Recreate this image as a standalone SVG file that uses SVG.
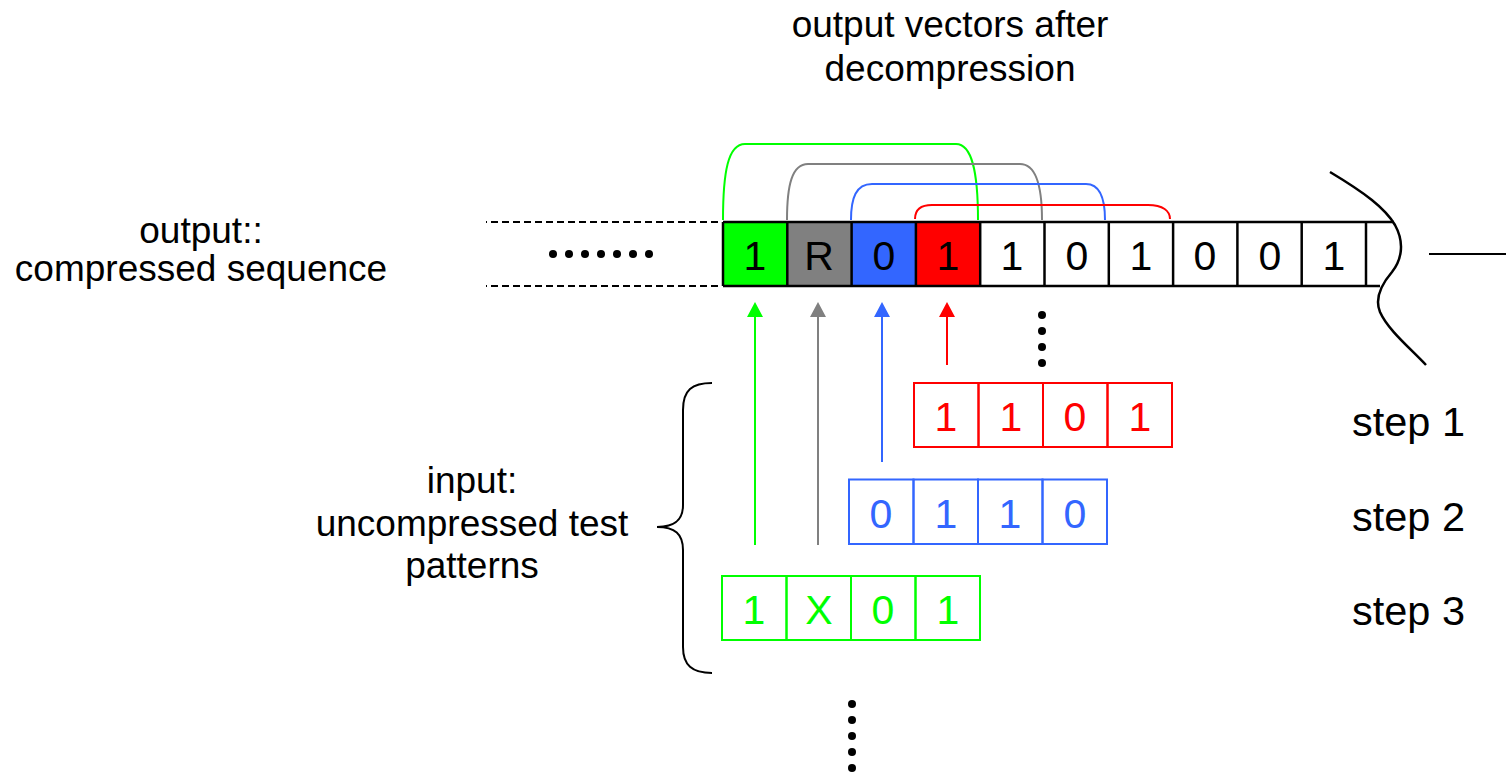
<svg xmlns="http://www.w3.org/2000/svg" width="1506" height="773" viewBox="0 0 1506 773">
<style>
text{font-family:"Liberation Sans",Arial,sans-serif;fill:#000}
.lbl{font-size:37px;text-anchor:middle}
.step{font-size:41.5px}
.d{font-size:41px;text-anchor:middle}
.cell{stroke:#000;stroke-width:2.5}
.r{stroke:#ff0000;fill:none;stroke-width:2}
.b{stroke:#3366ff;fill:none;stroke-width:2}
.g{stroke:#00ff00;fill:none;stroke-width:2}
.gr{stroke:#808080;fill:none;stroke-width:2}
text.tr{fill:#ff0000}
text.tb{fill:#3366ff}
text.tg{fill:#00ff00}
.dot{fill:#000}
</style>
<g id="title">
<text class="lbl" x="950" y="37">output vectors after</text>
<text class="lbl" x="950" y="81">decompression</text>
</g>
<g id="output-label">
<text class="lbl" x="201" y="243">output::</text>
<text class="lbl" x="201" y="281">compressed sequence</text>
</g>
<g id="input-label">
<text class="lbl" x="472" y="493">input:</text>
<text class="lbl" x="472" y="536">uncompressed test</text>
<text class="lbl" x="472" y="578">patterns</text>
</g>
<g id="steps">
<text class="step" x="1352" y="436">step 1</text>
<text class="step" x="1352" y="531">step 2</text>
<text class="step" x="1352" y="625">step 3</text>
</g>
<g id="compressed-sequence">
<line x1="486" y1="222" x2="722" y2="222" stroke="#000" stroke-width="2" stroke-dasharray="7 4" stroke-dashoffset="6"/>
<line x1="486" y1="286" x2="722" y2="286" stroke="#000" stroke-width="2" stroke-dasharray="7 4" stroke-dashoffset="6"/>
<g class="dot">
<circle cx="553" cy="254" r="4"/><circle cx="569" cy="254" r="4"/><circle cx="585" cy="254" r="4"/><circle cx="601" cy="254" r="4"/><circle cx="617" cy="254" r="4"/><circle cx="633" cy="254" r="4"/><circle cx="649" cy="254" r="4"/>
</g>
<rect x="723" y="222" width="64.3" height="64" fill="#00ff00"/>
<rect x="787.3" y="222" width="64.3" height="64" fill="#808080"/>
<rect x="851.6" y="222" width="64.3" height="64" fill="#3366ff"/>
<rect x="915.9" y="222" width="64.3" height="64" fill="#ff0000"/>
<line class="cell" x1="723" y1="222" x2="1394" y2="222"/>
<line class="cell" x1="723" y1="286" x2="1380" y2="286"/>
<g class="cell">
<line x1="723" y1="222" x2="723" y2="286"/>
<line x1="787.3" y1="222" x2="787.3" y2="286"/>
<line x1="851.6" y1="222" x2="851.6" y2="286"/>
<line x1="915.9" y1="222" x2="915.9" y2="286"/>
<line x1="980.2" y1="222" x2="980.2" y2="286"/>
<line x1="1044.5" y1="222" x2="1044.5" y2="286"/>
<line x1="1108.8" y1="222" x2="1108.8" y2="286"/>
<line x1="1173.1" y1="222" x2="1173.1" y2="286"/>
<line x1="1237.4" y1="222" x2="1237.4" y2="286"/>
<line x1="1301.7" y1="222" x2="1301.7" y2="286"/>
<line x1="1366" y1="222" x2="1366" y2="286"/>
</g>
<text class="d" x="755" y="270">1</text>
<text class="d" x="819" y="270">R</text>
<text class="d" x="884" y="270">0</text>
<text class="d" x="948" y="270">1</text>
<text class="d" x="1012" y="270">1</text>
<text class="d" x="1077" y="270">0</text>
<text class="d" x="1141" y="270">1</text>
<text class="d" x="1205" y="270">0</text>
<text class="d" x="1270" y="270">0</text>
<text class="d" x="1334" y="270">1</text>
<path d="M1330,172 C1365,193 1385,208 1395,225 C1406,245 1400,262 1392,272 C1380,286 1375,300 1380,312 C1388,330 1410,348 1426,365" fill="none" stroke="#000" stroke-width="2.5"/>
<line x1="1429" y1="254" x2="1506" y2="254" stroke="#000" stroke-width="2"/>
<g class="dot">
<circle cx="1042" cy="315" r="4"/><circle cx="1042" cy="331" r="4"/><circle cx="1042" cy="347" r="4"/><circle cx="1042" cy="363" r="4"/>
</g>
</g>
<g id="step1-pattern">
<rect class="r" x="914" y="383" width="64.5" height="64"/>
<rect class="r" x="978.5" y="383" width="64.5" height="64"/>
<rect class="r" x="1043" y="383" width="64.5" height="64"/>
<rect class="r" x="1107.5" y="383" width="64.5" height="64"/>
<text class="d tr" x="946" y="431">1</text>
<text class="d tr" x="1011" y="431">1</text>
<text class="d tr" x="1075" y="431">0</text>
<text class="d tr" x="1140" y="431">1</text>
</g>
<g id="step2-pattern">
<rect class="b" x="849" y="479.5" width="64.5" height="64.5"/>
<rect class="b" x="913.5" y="479.5" width="64.5" height="64.5"/>
<rect class="b" x="978" y="479.5" width="64.5" height="64.5"/>
<rect class="b" x="1042.5" y="479.5" width="64.5" height="64.5"/>
<text class="d tb" x="881" y="528">0</text>
<text class="d tb" x="946" y="528">1</text>
<text class="d tb" x="1010" y="528">1</text>
<text class="d tb" x="1075" y="528">0</text>
</g>
<g id="step3-pattern">
<rect class="g" x="722" y="576" width="64.5" height="64"/>
<rect class="g" x="786.5" y="576" width="64.5" height="64"/>
<rect class="g" x="851" y="576" width="64.5" height="64"/>
<rect class="g" x="915.5" y="576" width="64.5" height="64"/>
<text class="d tg" x="754" y="624">1</text>
<text class="d tg" x="819" y="624">X</text>
<text class="d tg" x="883" y="624">0</text>
<text class="d tg" x="948" y="624">1</text>
</g>
<g id="brace">
<path d="M712,383 C692,383 683,390 683,410 L683,505 C683,520 675,527 657,527 C675,527 683,534 683,550 L683,647 C683,665 692,673 712,673" fill="none" stroke="#000" stroke-width="2"/>
</g>
<g id="more-steps" class="dot">
<circle cx="852" cy="704" r="4"/><circle cx="852" cy="720" r="4"/><circle cx="852" cy="736" r="4"/><circle cx="852" cy="752" r="4"/><circle cx="852" cy="768" r="4"/>
</g>
<g id="connectors">
<path class="g" d="M723,220 C723,172 728,144 745,144 L956,144 C972,144 978,172 978,220"/>
<path class="gr" d="M787,220 C787,185 792,164 808,164 L1020,164 C1036,164 1042,185 1042,220"/>
<path class="b" d="M851,220 C851,198 856,184 872,184 L1086,184 C1101,184 1105,200 1105,220"/>
<path class="r" d="M915,219 C915,210 920,205 932,205 L1148,205 C1163,205 1170,211 1170,219"/>
<line class="g" x1="755" y1="545" x2="755" y2="314"/>
<path d="M755,302 L747,317 L763,317 Z" fill="#00ff00"/>
<line class="gr" x1="818" y1="545" x2="818" y2="314"/>
<path d="M818,302 L810,317 L826,317 Z" fill="#808080"/>
<line class="b" x1="882" y1="462" x2="882" y2="314"/>
<path d="M882,302 L874,317 L890,317 Z" fill="#3366ff"/>
<line class="r" x1="947" y1="365" x2="947" y2="314"/>
<path d="M947,302 L939,317 L955,317 Z" fill="#ff0000"/>
</g>
</svg>
